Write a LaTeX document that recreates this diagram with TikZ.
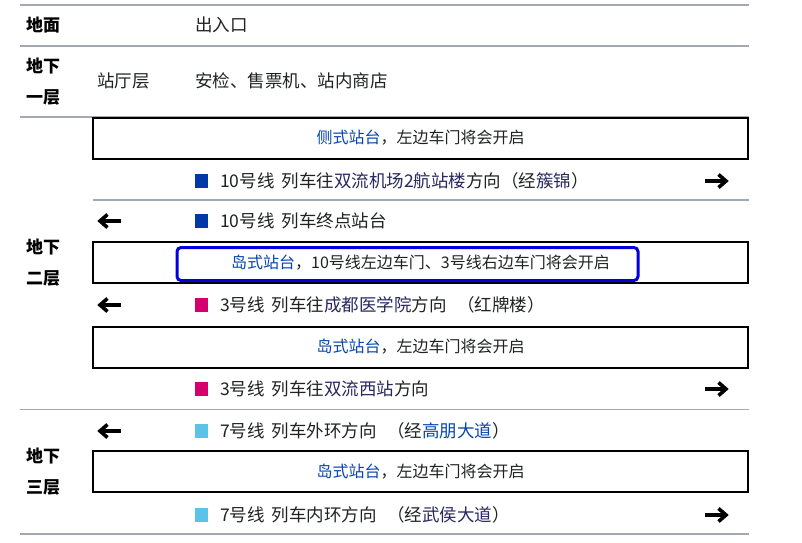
\documentclass[tikz,border=0pt]{standalone}
\usepackage{fontspec}
\setmainfont{Noto Sans CJK SC}
\usetikzlibrary{positioning}

\definecolor{rulegray}{HTML}{A2A9B1}
\definecolor{bodytext}{HTML}{202122}
\definecolor{linkblue}{HTML}{0645AD}
\definecolor{visited}{HTML}{26285E}
\definecolor{line10}{HTML}{0038A8}
\definecolor{line3}{HTML}{D5006D}
\definecolor{line7}{HTML}{5BC4E6}
\definecolor{doorblue}{HTML}{0000DD}

\tikzset{
  tablerule/.style={draw=rulegray, line width=1.3pt},
  platform/.style={draw=black, line width=2pt, minimum width=655pt, minimum height=41pt,
    inner sep=0pt, text=bodytext, font=\fontsize{16}{16}\selectfont},
  floorlbl/.style={anchor=west, align=left, inner sep=0pt, font=\bfseries\fontsize{17}{31}\selectfont},
  cell/.style={anchor=west, inner sep=0pt, text=bodytext, font=\fontsize{17.5}{17.5}\selectfont},
  swatch/.style={fill=#1, minimum width=13pt, minimum height=14pt, inner sep=0pt},
  rarrow/.pic={
    \draw[line width=3.8pt] (-12,0) -- (8,0);
    \draw[line width=3.6pt, line join=miter, miter limit=4] (1.5,-6.5) -- (9,0) -- (1.5,6.5);
  },
  larrow/.pic={
    \draw[line width=3.8pt] (12,0) -- (-8,0);
    \draw[line width=3.6pt, line join=miter, miter limit=4] (-1.5,-6.5) -- (-9,0) -- (-1.5,6.5);
  },
}

\begin{document}
\begin{tikzpicture}[x=1pt,y=-1pt]
    \useasboundingbox (0,0) rectangle (802,542);

    % table rules
    \draw[tablerule] (20,5) -- (749,5);
    \draw[tablerule] (20,46) -- (749,46);
    \draw[tablerule] (20,117) -- (749,117);
    \draw[tablerule] (93,200) -- (749,200);
    \draw[tablerule] (20,409.5) -- (749,409.5);
    \draw[tablerule] (20,534) -- (749,534);

    % Ground
    \node[floorlbl] (g) at (26,25) {地面};
    \node[cell] (gexit) at (195,25) {出入口};

    % B1
    \node[floorlbl] (b1) at (26,81.5) {地下\\一层};
    \node[cell] (b1hall) at (97,81) {站厅层};
    \node[cell] (b1shops) at (195,81) {安检、售票机、站内商店};

    % B2, line 10
    \node[platform] (p10) at (420.5,138) {{\color{linkblue}侧式站台}，左边车门将会开启};
    \node[swatch=line10] (sq10a) at (201.5,181) {};
    \node[cell] (r10a) at (220,181) {10号线\hspace{0.4em}列车往{\color{visited}双流机场2航站楼}方向（经{\color{visited}簇锦}）};
    \pic at (717,181) {rarrow};
    \pic at (109,221) {larrow};
    \node[swatch=line10] (sq10b) at (201.5,221) {};
    \node[cell] (r10b) at (220,221) {10号线\hspace{0.4em}列车终点站台};

    \node[floorlbl] (b2) at (26,262.5) {地下\\二层};
    \node[draw=doorblue, line width=3pt, rounded corners=4pt, minimum width=461pt,
          minimum height=33pt, inner sep=0pt] (p103in) at (407.5,264) {};
    \node[platform] (p103) at (420.5,262.5) {{\color{linkblue}岛式站台}，10号线左边车门、3号线右边车门将会开启};

    % B2, line 3
    \pic at (109,305) {larrow};
    \node[swatch=line3] (sq3a) at (201.5,305) {};
    \node[cell] (r3a) at (220,305) {3号线\hspace{0.4em}列车往{\color{visited}成都医学院}方向\hspace{0.6em}（红牌楼）};
    \node[platform] (p3) at (420.5,347) {{\color{linkblue}岛式站台}，左边车门将会开启};
    \node[swatch=line3] (sq3b) at (201.5,389) {};
    \node[cell] (r3b) at (220,389) {3号线\hspace{0.4em}列车往{\color{visited}双流西站}方向};
    \pic at (717,389) {rarrow};

    % B3, line 7
    \pic at (109,431) {larrow};
    \node[swatch=line7] (sq7a) at (201.5,431) {};
    \node[cell] (r7a) at (220,431) {7号线\hspace{0.4em}列车外环方向\hspace{0.6em}（经{\color{linkblue}高朋大道}）};
    \node[floorlbl] (b3) at (26,471.5) {地下\\三层};
    \node[platform] (p7) at (420.5,471.5) {{\color{linkblue}岛式站台}，左边车门将会开启};
    \node[swatch=line7] (sq7b) at (201.5,515) {};
    \node[cell] (r7b) at (220,515) {7号线\hspace{0.4em}列车内环方向\hspace{0.6em}（经{\color{visited}武侯大道}）};
    \pic at (717,515) {rarrow};
\end{tikzpicture}
\end{document}
